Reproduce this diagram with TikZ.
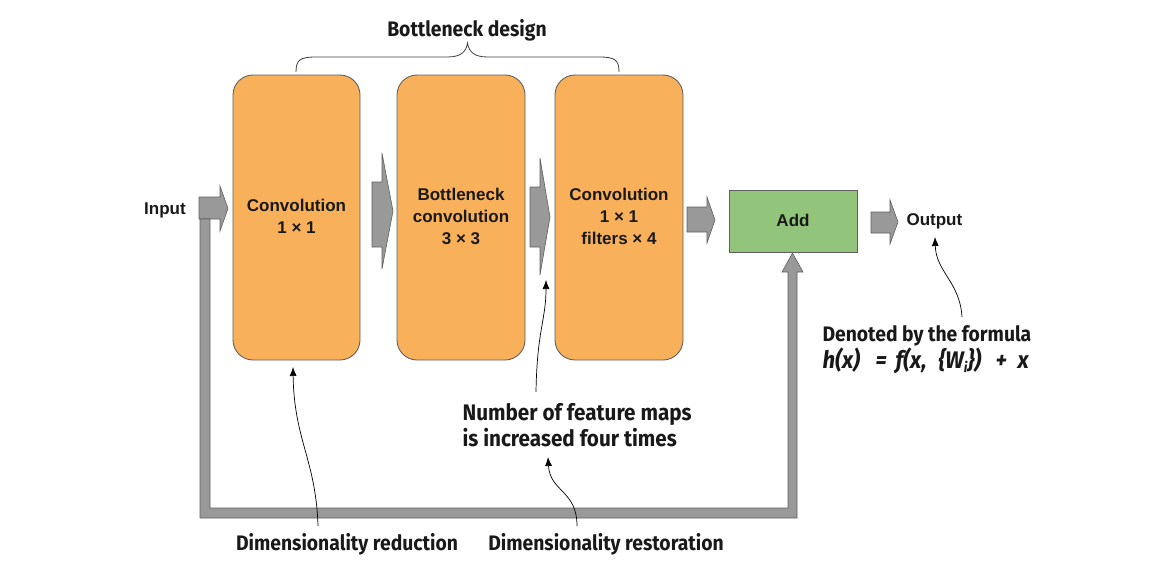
\documentclass[tikz,border=0pt]{standalone}
\usepackage{fontspec}
\setmainfont{Liberation Sans}
\newfontfamily\annfont[FakeStretch=0.92]{Fira Sans}
\usetikzlibrary{arrows.meta}
\definecolor{boxorange}{HTML}{F8B15A}
\definecolor{boxgreen}{HTML}{92C47C}
\definecolor{arrowgray}{HTML}{999999}
\definecolor{edgegray}{HTML}{606060}
\begin{document}
\begin{tikzpicture}[x=1pt,y=-1pt,
  convbox/.style={draw=edgegray, line width=0.9pt, fill=boxorange, rounded corners=20pt},
  addbox/.style={draw=edgegray, line width=0.9pt, fill=boxgreen},
  blockarrow/.style={draw=edgegray, line width=0.6pt, fill=arrowgray},
  boxtext/.style={font=\bfseries\fontsize{17}{22}\selectfont, align=center, text=black!90},
  anntext/.style={font=\annfont\bfseries\fontsize{21}{26}\selectfont, text=black!90},
  annarrow/.style={draw=black, line width=0.7pt, -{Latex[length=9pt,width=7pt]}}]
\useasboundingbox (0,0) rectangle (1152,581);
% boxes
\filldraw[convbox] (233,75) rectangle (360,360);
\filldraw[convbox] (397,75) rectangle (525,360);
\filldraw[convbox] (555,75) rectangle (683,360);
\filldraw[addbox] (729,190) rectangle (857,252);
\node[boxtext] (t1) at (296.5,216) {Convolution\\1 × 1};
\node[boxtext] (t2) at (461,216) {Bottleneck\\convolution\\3 × 3};
\node[boxtext] (t3) at (619,216) {Convolution\\1 × 1\\filters × 4};
\node[boxtext] (add) at (793,220) {Add};
\node[boxtext, anchor=center] (input) at (165,210) {Input};
\node[boxtext, anchor=west] (output) at (903,221) {Output};
% block arrows
\filldraw[blockarrow] (199,197) -- (220,197) -- (220,186) -- (228,208.5) -- (220,231) -- (220,219) -- (199,219) -- cycle;
\filldraw[blockarrow] (372,182) -- (382,182) -- (382,153) -- (393,211) -- (382,269) -- (382,247) -- (372,247) -- cycle;
\filldraw[blockarrow] (530,187) -- (540,187) -- (540,158) -- (550,217) -- (540,275) -- (540,247) -- (530,247) -- cycle;
\filldraw[blockarrow] (687,207) -- (707,207) -- (707,197) -- (715,220) -- (707,243) -- (707,232) -- (687,232) -- cycle;
\filldraw[blockarrow] (871,212) -- (890,212) -- (890,200) -- (898,222) -- (890,244) -- (890,233) -- (871,233) -- cycle;
% skip connection
\filldraw[blockarrow] (200,219) -- (200,518) -- (797,518) -- (797,272) -- (803,272) -- (792.5,253) -- (782,272) -- (788,272) -- (788,508) -- (210,508) -- (210,219) -- cycle;
% brace
\draw[line width=0.8pt, black!75] (296,72) .. controls (296,60) and (300,57) .. (316,57) -- (447,57) .. controls (461,57) and (466,52) .. (467.5,43)
  .. controls (469,52) and (474,57) .. (488,57) -- (599,57) .. controls (615,57) and (619,60) .. (619,72);
\node[anntext] (bd) at (467,30) {Bottleneck design};
% annotations
\node[anntext, anchor=west, align=left, font=\annfont\bfseries\fontsize{22.5}{26}\selectfont] (nf) at (459,425) {Number of feature maps\\is increased four times};
\node[anntext] (dred) at (347,544) {Dimensionality reduction};
\node[anntext] (dres) at (606,544) {Dimensionality restoration};
\node[anntext, anchor=west] (den) at (819,336) {Denoted by the formula};
\node[anntext, anchor=west, font=\annfont\bfseries\itshape\fontsize{24}{26}\selectfont] (form) at (819,361)
  {\makebox[53pt][l]{h(x)}\makebox[20pt][l]{=}\makebox[43pt][l]{f(x,}\makebox[57pt][l]{\{W\raisebox{-4pt}{\fontsize{14}{14}\selectfont i}\})}\makebox[22pt][l]{+}x};
\coordinate (a1s) at (318,526);
\coordinate (a1e) at (293,367);
\coordinate (a2s) at (577,526);
\coordinate (a2e) at (548,457);
\coordinate (a3s) at (536,392);
\coordinate (a3e) at (546,280);
\coordinate (a4s) at (962,317);
\coordinate (a4e) at (935,237);
\draw[annarrow] (a1s) .. controls (316,460) and (294,440) .. (a1e);
\draw[annarrow] (a2s) .. controls (577,490) and (550,492) .. (a2e);
\draw[annarrow] (a3s) .. controls (537,330) and (546,320) .. (a3e);
\draw[annarrow] (a4s) .. controls (960,282) and (936,272) .. (a4e);
\end{tikzpicture}
\end{document}
